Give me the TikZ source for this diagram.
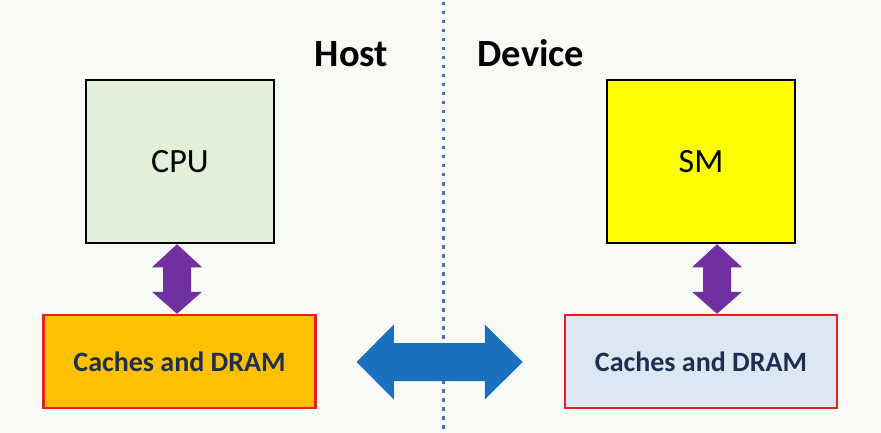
\documentclass[tikz,border=0pt]{standalone}
\usepackage{fontspec}
\setmainfont{Carlito}
\usetikzlibrary{calc}
\definecolor{bg}{HTML}{F8FAF5}
\definecolor{cpug}{HTML}{E2EFD9}
\definecolor{smy}{HTML}{FFFF00}
\definecolor{hostor}{HTML}{FFC000}
\definecolor{devbl}{HTML}{DCE7F4}
\definecolor{redb}{HTML}{E3211E}
\definecolor{purp}{HTML}{7030A0}
\definecolor{bluea}{HTML}{1A6FBE}
\definecolor{dotc}{HTML}{4A6FB2}
\definecolor{navy}{HTML}{1E2F50}
\begin{document}
\begin{tikzpicture}[x=1pt,y=-1pt,
  procbox/.style={draw=black, line width=2.5pt, minimum width=188, minimum height=163, inner sep=0pt, font=\fontsize{34}{40}\selectfont},
  membox/.style={draw=redb, line width=2.5pt, minimum width=272, minimum height=93, inner sep=0pt, text=navy, font=\bfseries\fontsize{28}{34}\selectfont},
  title/.style={anchor=base, font=\bfseries\fontsize{38.5}{46}\selectfont},
  dotline/.style={draw=dotc, line width=3.5pt, dash pattern=on 3.5pt off 5.5pt},
  purparrow/.style={fill=purp},
  bluearrow/.style={fill=bluea}]
\useasboundingbox[fill=bg] (0,0) rectangle (881,433);
\coordinate (dtop) at (443.5,2);
\coordinate (dbot) at (443.5,433);
\draw[dotline] (dtop) -- (dbot);
\node[title] (host) at (351.5,67) {Host};
\node[title] (device) at (531,67) {Device};
\node[procbox, fill=cpug] (cpu) at (180,161.5) {CPU};
\node[procbox, fill=smy] (sm) at (701,161.5) {SM};
\node[membox, fill=hostor] (hc) at (179.5,361.5) {Caches and DRAM};
\node[membox, fill=devbl] (dc) at (701,361.5) {Caches and DRAM};
% purple arrows
\coordinate (ht) at ($(cpu.south)+(-3,0)$);
\coordinate (hb) at ($(hc.north)+(-2.5,0)$);
\fill[purparrow] (ht) -- ++(25,23) -- ++(-11,0) -- ($(hb)+(14,-22)$) -- ++(11,0) -- (hb)
  -- ++(-25,-22) -- ++(11,0) -- ($(ht)+(-14,23)$) -- ++(-11,0) -- cycle;
\coordinate (dt) at ($(sm.south)+(16,0)$);
\coordinate (db) at ($(dc.north)+(16,0)$);
\fill[purparrow] (dt) -- ++(25,23) -- ++(-11,0) -- ($(db)+(14,-22)$) -- ++(11,0) -- (db)
  -- ++(-25,-22) -- ++(11,0) -- ($(dt)+(-14,23)$) -- ++(-11,0) -- cycle;
% blue arrow
\coordinate (bl) at ($(hc.east)+(40,0.5)$);
\coordinate (br) at ($(dc.west)+(-41,0.5)$);
\fill[bluearrow] (bl) -- ++(37,-37.5) -- ++(0,18.5) -- ($(br)+(-38,-19)$) -- ++(0,-18.5) -- (br)
  -- ++(-38,37.5) -- ++(0,-18.5) -- ($(bl)+(37,19)$) -- ++(0,18.5) -- cycle;
\end{tikzpicture}
\end{document}
